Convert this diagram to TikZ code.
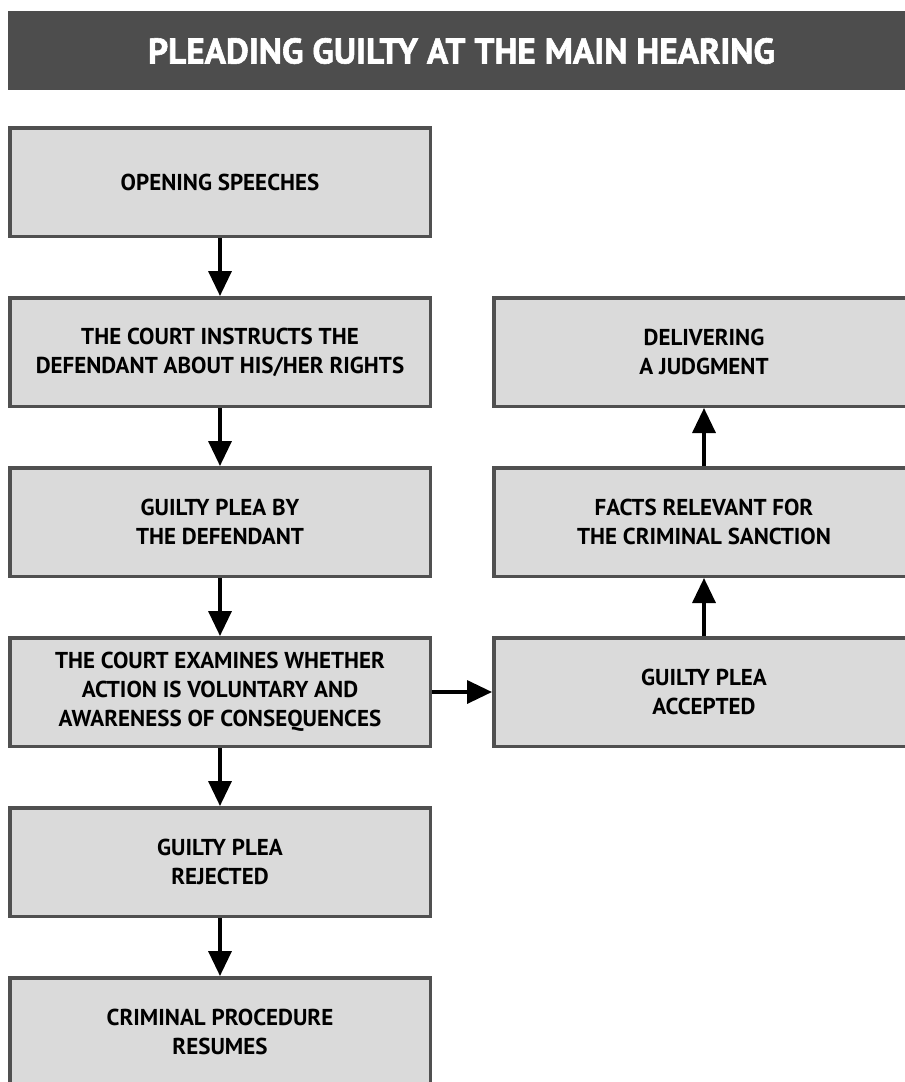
\documentclass[tikz,border=0pt]{standalone}
\usepackage{fontspec}
\setmainfont{PT Sans}
\newfontfamily\titlefont{PT Sans}[BoldFeatures={FakeBold=1.6}]
\usetikzlibrary{arrows.meta}
\definecolor{barcol}{HTML}{4D4D4D}
\definecolor{boxfill}{HTML}{DADADA}
\definecolor{boxline}{HTML}{505050}
\begin{document}
\begin{tikzpicture}[x=1pt,y=-1pt,
  stepbox/.style={draw=boxline, fill=boxfill, line width=3.5pt, rectangle,
    minimum width=420.5pt, minimum height=108.5pt, align=center, inner sep=0pt,
    font=\bfseries\fontsize{23}{29}\selectfont, text=black},
  conn/.style={line width=3.5pt, -{Triangle[length=25pt,width=23pt]}}]
\useasboundingbox (0,0) rectangle (905,1082);
\clip (0,0) rectangle (905,1082);
\fill[barcol] (8,11) rectangle (920,90);
\node[text=white, font=\titlefont\bfseries\fontsize{37}{40}\selectfont] (title) at (461.5,51)
  {\resizebox*{627pt}{26pt}{PLEADING GUILTY AT THE MAIN HEARING}};
\node[stepbox] (b1) at (220,182) {OPENING SPEECHES};
\node[stepbox] (b2) at (220,352) {THE COURT INSTRUCTS THE\\DEFENDANT ABOUT HIS/HER RIGHTS};
\node[stepbox] (b3) at (220,522) {GUILTY PLEA BY\\THE DEFENDANT};
\node[stepbox] (b4) at (220,692) {THE COURT EXAMINES WHETHER\\ACTION IS VOLUNTARY AND\\AWARENESS OF CONSEQUENCES};
\node[stepbox] (b5) at (220,862) {GUILTY PLEA\\REJECTED};
\node[stepbox] (b6) at (220,1032) {CRIMINAL PROCEDURE\\RESUMES};
\node[stepbox] (r1) at (704,352) {DELIVERING\\A JUDGMENT};
\node[stepbox] (r2) at (704,522) {FACTS RELEVANT FOR\\THE CRIMINAL SANCTION};
\node[stepbox] (r3) at (704,692) {GUILTY PLEA\\ACCEPTED};
\draw[conn] (b1) -- (b2);
\draw[conn] (b2) -- (b3);
\draw[conn] (b3) -- (b4);
\draw[conn] (b4) -- (b5);
\draw[conn] (b5) -- (b6);
\draw[conn] (b4) -- (r3);
\draw[conn] (r3) -- (r2);
\draw[conn] (r2) -- (r1);
\end{tikzpicture}
\end{document}
